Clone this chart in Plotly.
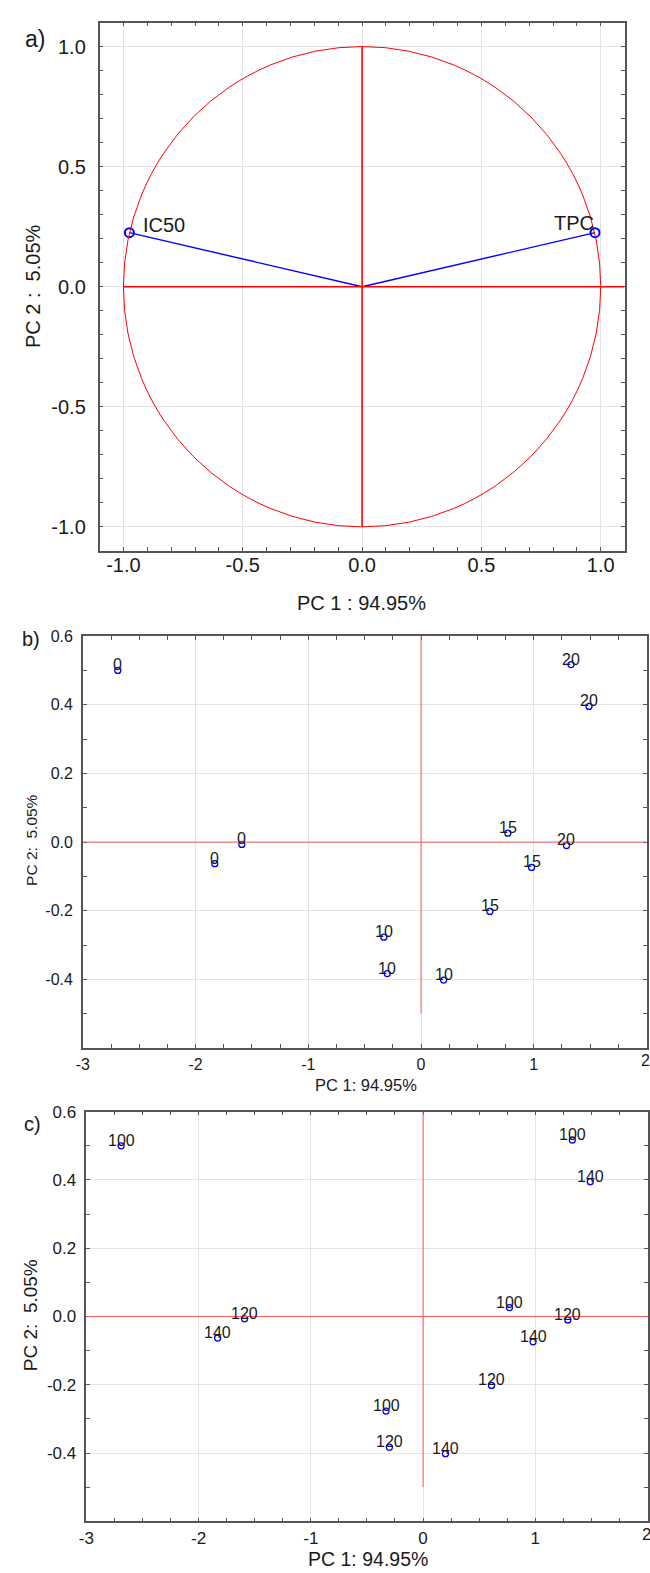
import plotly.graph_objects as go

# ---- data ----
variables = ["IC50", "TPC"]
load_pc1 = [-0.975, 0.976]
load_pc2 = [0.225, 0.225]

score_pc1 = [-2.69, 1.33, 1.49, -1.83, -1.59, 0.77, 1.29, 0.98, 0.61, -0.33, -0.30, 0.20]
score_pc2 = [0.50, 0.517, 0.395, -0.063, -0.007, 0.026, -0.010, -0.074, -0.202, -0.277, -0.383, -0.402]
labels_b = ["0", "20", "20", "0", "0", "15", "20", "15", "15", "10", "10", "10"]
labels_c = ["100", "100", "140", "140", "120", "100", "120", "140", "120", "100", "120", "140"]

ticks_a = [-1.0, -0.5, 0.0, 0.5, 1.0]
ticks_x_bc = [-3, -2, -1, 0, 1, 2]
ticks_y_bc = [-0.4, -0.2, 0.0, 0.2, 0.4, 0.6]

W, H = 650, 1573
FONT = "Liberation Sans, Arial, sans-serif"
TXT = "#1a1a1a"
AX = "#555555"
GRID = "#e4e4e4"

def py(p):
    return 1 - p / H

def px(p):
    return p / W

def fmt1(v):
    return "%.1f" % v

fig = go.Figure()

# Panel a: loadings
vx, vy = [], []
for a, b in zip(load_pc1, load_pc2):
    vx += [0, a, None]
    vy += [0, b, None]
fig.add_trace(go.Scatter(x=vx, y=vy, mode="lines", line=dict(color="#0000ff", width=1.4),
                         xaxis="x", yaxis="y", hoverinfo="skip"))
fig.add_trace(go.Scatter(x=load_pc1, y=load_pc2, mode="markers",
                         marker=dict(symbol="circle-open", size=9, color="#0000ff", line=dict(width=2)),
                         xaxis="x", yaxis="y"))

# Panels b, c: scores
for xa, ya in (("x2", "y2"), ("x3", "y3")):
    fig.add_trace(go.Scatter(x=score_pc1, y=score_pc2, mode="markers",
                             marker=dict(symbol="circle-open", size=6, color="#0000ff", line=dict(width=1.3)),
                             xaxis=xa, yaxis=ya))

shapes = [
    dict(type="circle", xref="x", yref="y", x0=-1, y0=-1, x1=1, y1=1, line=dict(color="#ff0000", width=1), layer="above"),
    dict(type="line", xref="x", yref="y", x0=-1, y0=0, x1=1.1, y1=0, line=dict(color="#ff0000", width=1.6)),
    dict(type="line", xref="x", yref="y", x0=0, y0=-1, x1=0, y1=1, line=dict(color="#ff0000", width=1.6)),
    dict(type="line", xref="x2", yref="y2", x0=-3, y0=0, x1=2, y1=0, line=dict(color="#ff5a5a", width=1)),
    dict(type="line", xref="x2", yref="y2", x0=0, y0=-0.5, x1=0, y1=0.6, line=dict(color="#ff5a5a", width=1)),
    dict(type="line", xref="x3", yref="y3", x0=-3, y0=0, x1=2, y1=0, line=dict(color="#ff5a5a", width=1)),
    dict(type="line", xref="x3", yref="y3", x0=0, y0=-0.5, x1=0, y1=0.6, line=dict(color="#ff5a5a", width=1)),
]

ann = []
ann.append(dict(x=load_pc1[0], y=load_pc2[0], xref="x", yref="y", text=variables[0], showarrow=False,
                xanchor="left", yanchor="middle", xshift=12, yshift=8, font=dict(size=20, color=TXT)))
ann.append(dict(x=load_pc1[1], y=load_pc2[1], xref="x", yref="y", text=variables[1], showarrow=False,
                xanchor="right", yanchor="middle", xshift=1, yshift=10, font=dict(size=20, color=TXT)))
for xv, yv, lb in zip(score_pc1, score_pc2, labels_b):
    ann.append(dict(x=xv, y=yv, xref="x2", yref="y2", text=lb, showarrow=False, xanchor="center",
                    yanchor="bottom", yshift=-4, borderpad=0, font=dict(size=16, color=TXT)))
for xv, yv, lb in zip(score_pc1, score_pc2, labels_c):
    ann.append(dict(x=xv, y=yv, xref="x3", yref="y3", text=lb, showarrow=False, xanchor="center",
                    yanchor="bottom", yshift=-4, borderpad=0, font=dict(size=16, color=TXT)))

def label(text, x, y, size, angle=0):
    ann.append(dict(x=px(x), y=py(y), xref="paper", yref="paper", text=text, showarrow=False,
                    xanchor="center", yanchor="middle", textangle=angle, font=dict(size=size, color=TXT)))

label("PC 1 : 94.95%", 358, 597, 20)
label("PC 2 :\u00a0 5.05%", 26, 279, 20, -90)
label("a)", 27, 30, 23)
label("PC 1: 94.95%", 362, 1082, 16.5)
label("PC 2:\u00a0 5.05%", 24, 836, 15.5, -90)
label("b)", 23, 634, 20)
label("PC 1: 94.95%", 364, 1559, 19.5)
label("PC 2:\u00a0 5.05%", 23, 1314, 19, -90)
label("c)", 25, 1121, 20)

def axis(domain, anchor, rng, tickvals, ticktext, minor_dtick, size, standoff):
    return dict(domain=domain, anchor=anchor, range=rng, showline=True, linecolor=AX, linewidth=1.5,
                mirror="allticks", ticks="inside", ticklen=4, tickcolor=AX, tickwidth=1,
                showgrid=True, gridcolor=GRID, gridwidth=1, zeroline=False,
                tickmode="array", tickvals=tickvals, ticktext=ticktext,
                tickfont=dict(size=size, color=TXT, family=FONT), ticklabelstandoff=standoff,
                minor=dict(ticks="inside", ticklen=4, tickcolor=AX, dtick=minor_dtick, tick0=0, showgrid=False))

ta_txt = [fmt1(v) for v in ticks_a]
tx_txt = [str(v) for v in ticks_x_bc]
ty_txt = [fmt1(v) for v in ticks_y_bc]
# last x tick label sits on the right page edge: drawn as right-aligned text so it stays on the page
tx_txt_inner = tx_txt[:-1] + [""]

for xa, ya, size, std in (("x2", "y2", 16, 1), ("x3", "y3", 17, 1)):
    ann.append(dict(x=ticks_x_bc[-1], y=0, xref=xa, yref=ya + " domain", text=tx_txt[-1], showarrow=False,
                    xanchor="right", yanchor="top", xshift=4, yshift=-(std + 2), borderpad=0,
                    font=dict(size=size, color=TXT)))

fig.update_layout(
    width=W, height=H, margin=dict(l=0, r=0, t=0, b=0),
    paper_bgcolor="white", plot_bgcolor="white", showlegend=False,
    font=dict(family=FONT, color=TXT),
    shapes=shapes, annotations=ann,
    xaxis=axis([px(92.7), px(624.3)], "y", [-1.1, 1.1], ticks_a, ta_txt, 0.1, 20, -5),
    yaxis=axis([py(545), py(13.6)], "x", [-1.1, 1.1], ticks_a, ta_txt, 0.1, 20, 8),
    xaxis2=axis([px(75.8), px(646.5)], "y2", [-3, 2], ticks_x_bc, tx_txt_inner, 0.25, 16, 1),
    yaxis2=axis([py(1045), py(630.7)], "x2", [-0.6, 0.6], ticks_y_bc, ty_txt, 0.1, 16, 5),
    xaxis3=axis([px(79.3), px(647.5)], "y3", [-3, 2], ticks_x_bc, tx_txt_inner, 0.25, 17, 1),
    yaxis3=axis([py(1521), py(1109)], "x3", [-0.6, 0.6], ticks_y_bc, ty_txt, 0.1, 17, 5),
)

fig.write_html("out.html")
